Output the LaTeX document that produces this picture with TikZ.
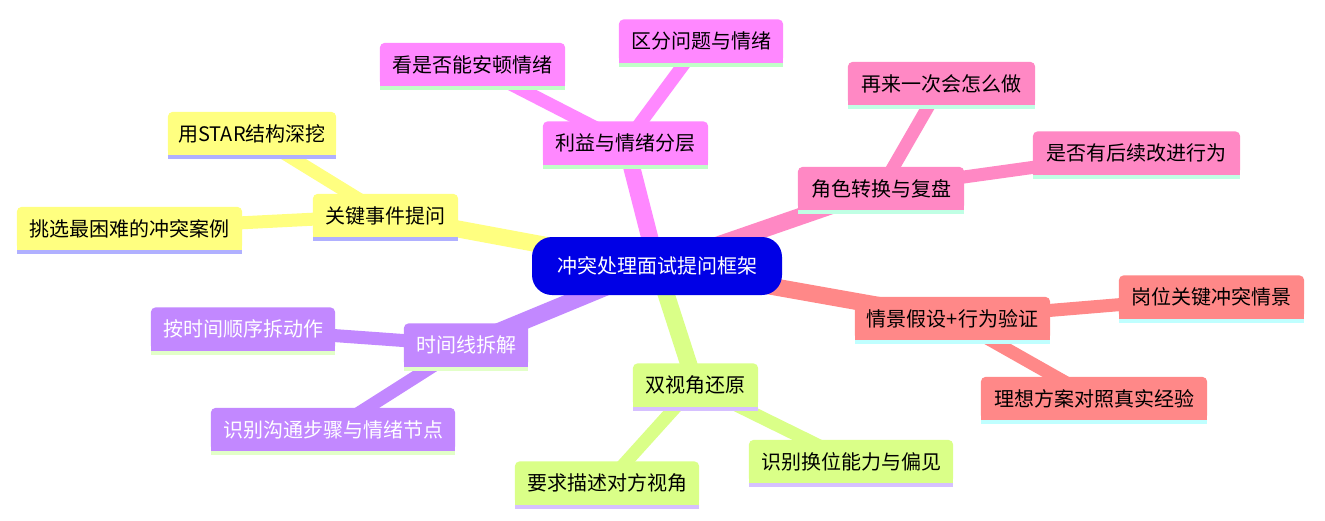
\documentclass[tikz,border=0pt]{standalone}
\usepackage{fontspec}
\setmainfont{Noto Sans CJK SC}
\definecolor{rootc}{RGB}{0,0,230}
\definecolor{cA}{RGB}{255,136,255}\definecolor{sA}{RGB}{192,255,200}
\definecolor{cB}{RGB}{255,136,196}\definecolor{sB}{RGB}{192,255,228}
\definecolor{cC}{RGB}{255,136,136}\definecolor{sC}{RGB}{192,255,255}
\definecolor{cD}{RGB}{218,255,136}\definecolor{sD}{RGB}{214,192,255}
\definecolor{cE}{RGB}{194,136,255}\definecolor{sE}{RGB}{226,255,200}
\definecolor{cF}{RGB}{255,255,128}\definecolor{sF}{RGB}{176,176,255}
\pgfdeclarelayer{bg}
\pgfdeclarelayer{edges}
\pgfdeclarelayer{boxes}
\pgfsetlayers{bg,edges,boxes,main}
\newcommand\mmnode[7]{%
  \node[mmbox, minimum width=#4pt] (#1) at (#2,#3) {#7};
  \begin{pgfonlayer}{boxes}
    \fill[#5, rounded corners=5pt] (#1.south west) rectangle (#1.north east);
    \fill[#5] (#1.south west) rectangle (#1.east);
    \fill[#6] (#1.south west) rectangle ([yshift=-4pt]#1.south east);
  \end{pgfonlayer}}
\begin{document}
\begin{tikzpicture}[x=1pt,y=-1pt,
  mmbox/.style={inner sep=0pt, minimum height=43pt, font=\fontsize{20}{24}\selectfont, text=black},
  eone/.style={line width=17pt},
  etwo/.style={line width=13pt}]
\begin{pgfonlayer}{bg}
\fill[white] (0,0) rectangle (1325,520);
\end{pgfonlayer}
\useasboundingbox (0,0) rectangle (1325,520);

\node[mmbox, minimum width=250pt, minimum height=58pt, fill=rootc, rounded corners=20pt, text=white] (root) at (657,266) {冲突处理面试提问框架};

% section A
\mmnode{liyi}{625.5}{143}{165}{cA}{sA}{利益与情绪分层}
\mmnode{kan}{472.5}{64.5}{185}{cA}{sA}{看是否能安顿情绪}
\mmnode{qufen}{701}{41}{164}{cA}{sA}{区分问题与情绪}
% section B
\mmnode{jiaose}{881}{188.5}{166}{cB}{sB}{角色转换与复盘}
\mmnode{zailai}{941.5}{83.5}{187}{cB}{sB}{再来一次会怎么做}
\mmnode{shifou}{1136.5}{153}{207}{cB}{sB}{是否有后续改进行为}
% section C
\mmnode{qingjing}{952.5}{318.5}{195}{cC}{sC}{情景假设+行为验证}
\mmnode{gangwei}{1211.5}{297}{185}{cC}{sC}{岗位关键冲突情景}
\mmnode{lixiang}{1094}{398.5}{226}{cC}{sC}{理想方案对照真实经验}
% section D
\mmnode{shuang}{695.5}{385}{125}{cD}{sD}{双视角还原}
\mmnode{yaoqiu}{607}{483}{184}{cD}{sD}{要求描述对方视角}
\mmnode{huanwei}{851}{461.5}{204}{cD}{sD}{识别换位能力与偏见}
% section E
\mmnode{shijian}{466}{345}{124}{cE}{sE}{\color{white}时间线拆解}
\mmnode{anshijian}{243}{329}{184}{cE}{sE}{\color{white}按时间顺序拆动作}
\mmnode{shibie}{333}{429.5}{244}{cE}{sE}{\color{white}识别沟通步骤与情绪节点}
% section F
\mmnode{guanjian}{385.5}{215.5}{145}{cF}{sF}{关键事件提问}
\mmnode{star}{252}{133.5}{168}{cF}{sF}{用STAR结构深挖}
\mmnode{tiaoxuan}{129.5}{228.5}{225}{cF}{sF}{挑选最困难的冲突案例}

\begin{pgfonlayer}{edges}
\draw[eone,cA] (root.center) -- (liyi.center);
\draw[etwo,cA] (liyi.center) -- (kan.center);
\draw[etwo,cA] (liyi.center) -- (qufen.center);
\draw[eone,cB] (root.center) -- (jiaose.center);
\draw[etwo,cB] (jiaose.center) -- (zailai.center);
\draw[etwo,cB] (jiaose.center) -- (shifou.center);
\draw[eone,cC] (root.center) -- (qingjing.center);
\draw[etwo,cC] (qingjing.center) -- (gangwei.center);
\draw[etwo,cC] (qingjing.center) -- (lixiang.center);
\draw[eone,cD] (root.center) -- (shuang.center);
\draw[etwo,cD] (shuang.center) -- (yaoqiu.center);
\draw[etwo,cD] (shuang.center) -- (huanwei.center);
\draw[eone,cE] (root.center) -- (shijian.center);
\draw[etwo,cE] (shijian.center) -- (anshijian.center);
\draw[etwo,cE] (shijian.center) -- (shibie.center);
\draw[eone,cF] (root.center) -- (guanjian.center);
\draw[etwo,cF] (guanjian.center) -- (star.center);
\draw[etwo,cF] (guanjian.center) -- (tiaoxuan.center);
\end{pgfonlayer}
\end{tikzpicture}
\end{document}
